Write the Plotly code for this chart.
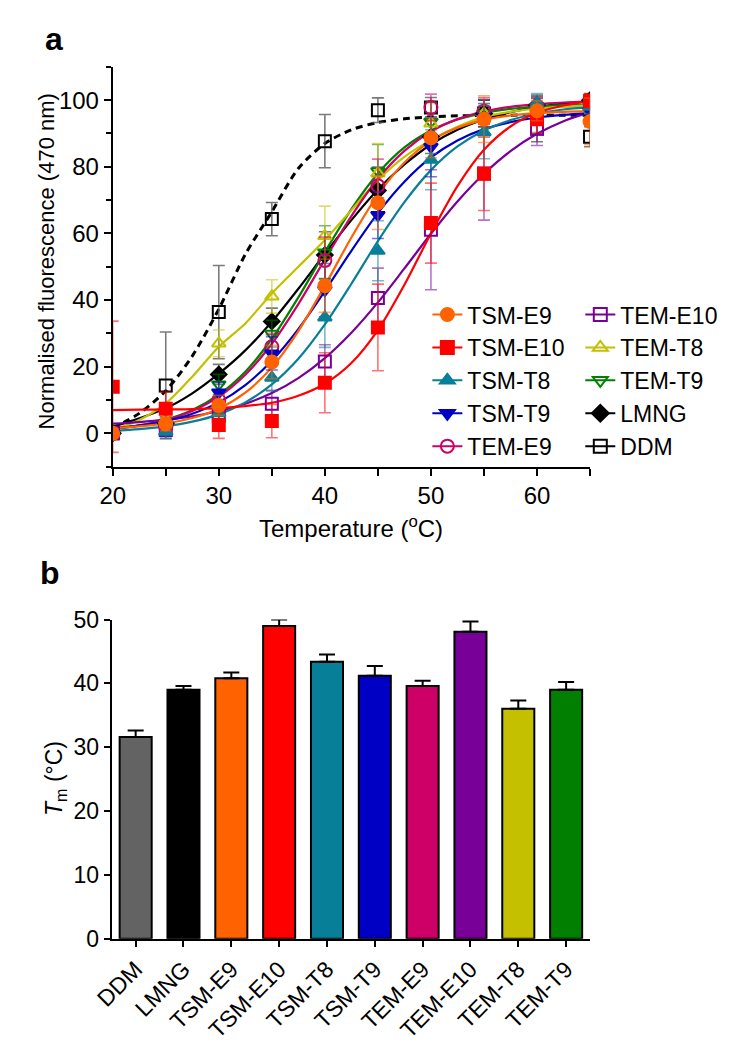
import plotly.graph_objects as go

W, H = 734, 1050

# ---------------- Panel a data ----------------
temps = [20, 25, 30, 35, 40, 45, 50, 55, 60, 65]
fit_temps = [20, 22.5, 25, 27.5, 30, 32.5, 35, 37.5, 40, 42.5, 45, 47.5, 50, 52.5, 55, 57.5, 60, 62.5, 65]

tsm_e9_pts = [0, 2.8, 8.4, 21.4, 44.3, 69.2, 88.7, 94.3, 96.8, 93.6]
tsm_e9_err = [1, 2, 3, 5, 8, 8, 6, 7, 3, 7]
tsm_e9_fit = [1.6, 2.1, 3.0, 4.6, 7.4, 12.2, 19.8, 30.7, 44.3, 58.8, 71.6, 81.3, 87.8, 91.7, 94.1, 95.4, 96.1, 96.5, 96.7]

tsm_e10_pts = [14, 7.4, 2.5, 3.7, 15.2, 31.8, 63.1, 77.9, 94.3, 99.8]
tsm_e10_err = [19.7, 5, 4, 5, 9, 13, 12, 11, 4, 2]
tsm_e10_fit = [7.0, 7.1, 7.2, 7.3, 7.6, 8.2, 9.2, 11.3, 14.9, 21.1, 31.0, 44.6, 60.0, 74.2, 85.1, 92.1, 96.2, 98.4, 99.7]

tsm_t8_pts = [0, 0.5, 6, 16.7, 34.8, 54.8, 82.1, 90.4, 99, 98]
tsm_t8_err = [1, 2, 3, 4, 9, 9, 9, 8, 3, 2]
tsm_t8_fit = [0.8, 1.3, 2.1, 3.5, 5.7, 9.3, 14.7, 22.4, 32.7, 44.9, 57.7, 69.4, 79.0, 86.1, 90.9, 94.0, 96.0, 97.2, 97.9]

tsm_t9_pts = [0, 1.5, 12.3, 24, 43, 65.5, 86, 95, 97.5, 96.8]
tsm_t9_err = [1, 2, 3, 5, 8, 7, 9, 5, 3, 2]
tsm_t9_fit = [1.4, 2.3, 3.7, 5.9, 9.3, 14.5, 21.8, 31.3, 42.7, 54.8, 66.1, 75.5, 82.8, 87.9, 91.3, 93.4, 94.8, 95.6, 96.2]

tem_e9_pts = [0, 2, 10, 26, 51.9, 74.3, 97.8, 96.7, 98, 99]
tem_e9_err = [1, 2, 3, 4, 7, 8, 4, 4, 3, 2]
tem_e9_fit = [1.4, 2.4, 4.0, 6.7, 11.0, 17.6, 26.9, 38.8, 52.2, 65.2, 76.4, 84.8, 90.6, 94.3, 96.6, 98.0, 98.8, 99.3, 99.6]

tem_e10_pts = [0, 1, 5.3, 8.9, 21.6, 40.6, 61.1, 78, 91.4, 99]
tem_e10_err = [1, 2, 3, 4, 5, 9, 18, 14, 5, 2]
tem_e10_fit = [2.9, 3.4, 4.1, 5.1, 6.7, 8.9, 12.1, 16.6, 22.6, 30.2, 39.3, 49.5, 59.9, 69.6, 77.9, 84.7, 89.9, 93.7, 96.4]

tem_t8_pts = [0, 4, 27, 41.1, 59.2, 78, 93, 96, 97.5, 98]
tem_t8_err = [1, 2, 4, 5, 9, 9, 6, 4, 3, 2]
tem_t8_fit = [1, 4, 9, 17, 26, 33, 42, 50, 58, 67, 76, 83, 88, 92, 95, 96.5, 97.5, 98, 98.5]

tem_t9_pts = [0, 2.5, 14.7, 29.9, 54.3, 78.7, 93.5, 96, 98, 98.5]
tem_t9_err = [1, 2, 3, 4, 8, 8, 6, 4, 3, 2]
tem_t9_fit = [1.4, 2.4, 4.1, 7.0, 11.6, 18.5, 28.4, 40.8, 54.4, 67.3, 78.0, 85.8, 90.9, 94.2, 96.2, 97.4, 98.1, 98.5, 98.7]

lmng_pts = [0, 3, 17.7, 33.6, 53.5, 72.9, 89, 96, 98.5, 100]
lmng_err = [1, 2, 3, 4, 7, 7, 5, 4, 3, 2]
lmng_fit = [2.0, 4.5, 7.5, 12.0, 17.9, 24.9, 33.5, 43.4, 53.9, 64.0, 73.2, 80.7, 86.7, 91.1, 94.2, 96.4, 98.0, 99.0, 99.6]

ddm_pts = [0, 14.4, 36.4, 64.3, 87.7, 97.0, 97.8, 96, 91.5, 89]
ddm_err = [0, 16, 14, 5, 8, 3.7, 3, 3, 4, 3]
ddm_fit = [1.5, 6.0, 12.8, 23.2, 37.3, 53.7, 66.5, 79.5, 87.0, 91.1, 93.3, 94.4, 95.0, 95.3, 95.4, 95.5, 95.5, 95.5, 95.5]

# ---------------- Panel b data ----------------
detergents = ["DDM", "LMNG", "TSM-E9", "TSM-E10", "TSM-T8", "TSM-T9", "TEM-E9", "TEM-E10", "TEM-T8", "TEM-T9"]
tm_values = [31.6, 39.0, 40.8, 49.0, 43.4, 41.2, 39.6, 48.1, 36.0, 39.0]
tm_errors = [1.0, 0.6, 0.9, 1.0, 1.1, 1.5, 0.8, 1.6, 1.3, 1.2]

colors = {
    "DDM": "#636363", "LMNG": "#000000", "TSM-E9": "#FF6200", "TSM-E10": "#FF0000",
    "TSM-T8": "#077F98", "TSM-T9": "#0000C4", "TEM-E9": "#CC0066", "TEM-E10": "#780099",
    "TEM-T8": "#C4C000", "TEM-T9": "#007F00",
}
line_colors = dict(colors)
line_colors["DDM"] = "#000000"

def rgba(hexc, a):
    h = hexc.lstrip("#")
    r, g, b = int(h[0:2], 16), int(h[2:4], 16), int(h[4:6], 16)
    return f"rgba({r},{g},{b},{a})"

series = [
    # name, pts, err, fit, symbol, dash
    ("DDM", ddm_pts, ddm_err, ddm_fit, "square-open", "dash"),
    ("LMNG", lmng_pts, lmng_err, lmng_fit, "diamond", "solid"),
    ("TEM-T9", tem_t9_pts, tem_t9_err, tem_t9_fit, "triangle-down-open", "solid"),
    ("TEM-T8", tem_t8_pts, tem_t8_err, tem_t8_fit, "triangle-up-open", "solid"),
    ("TEM-E10", tem_e10_pts, tem_e10_err, tem_e10_fit, "square-open", "solid"),
    ("TEM-E9", tem_e9_pts, tem_e9_err, tem_e9_fit, "circle-open", "solid"),
    ("TSM-T9", tsm_t9_pts, tsm_t9_err, tsm_t9_fit, "triangle-down", "solid"),
    ("TSM-T8", tsm_t8_pts, tsm_t8_err, tsm_t8_fit, "triangle-up", "solid"),
    ("TSM-E10", tsm_e10_pts, tsm_e10_err, tsm_e10_fit, "square", "solid"),
    ("TSM-E9", tsm_e9_pts, tsm_e9_err, tsm_e9_fit, "circle", "solid"),
]

fig = go.Figure()

# fit curves
for name, pts, err, fit, sym, dash in series:
    fig.add_trace(go.Scatter(
        x=fit_temps, y=fit, mode="lines",
        line=dict(color=line_colors[name], width=2.2 if dash == "solid" else 3,
                  dash="7px,5px" if dash == "dash" else "solid", shape="spline", smoothing=0.8),
        showlegend=False, hoverinfo="skip", xaxis="x", yaxis="y"))

# data points with error bars
for name, pts, err, fit, sym, dash in series:
    ecol = "rgba(90,90,90,0.8)" if name in ("DDM", "LMNG") else rgba(colors[name], 0.55)
    fig.add_trace(go.Scatter(
        x=temps, y=pts, mode="markers",
        marker=dict(symbol=sym, size=13 if "circle" in sym else 12, color=line_colors[name],
                    line=dict(color=line_colors[name], width=2)),
        error_y=dict(type="data", array=err, color=ecol, thickness=1.6, width=6),
        showlegend=False, xaxis="x", yaxis="y"))

legend_col1 = ["TSM-E9", "TSM-E10", "TSM-T8", "TSM-T9", "TEM-E9"]
legend_col2 = ["TEM-E10", "TEM-T8", "TEM-T9", "LMNG", "DDM"]
sym_by_name = {s[0]: s[4] for s in series}
for grp, names in (("legend", legend_col1), ("legend2", legend_col2)):
    for name in names:
        fig.add_trace(go.Scatter(
            x=[None], y=[None], mode="lines+markers", name=name,
            line=dict(color=line_colors[name], width=2),
            marker=dict(symbol=sym_by_name[name], size=13, color=line_colors[name],
                        line=dict(color=line_colors[name], width=2)),
            legend=grp, xaxis="x", yaxis="y"))

# bar chart
fig.add_trace(go.Bar(
    x=detergents, y=tm_values,
    marker=dict(color=[colors[d] for d in detergents], line=dict(color="black", width=2)),
    error_y=dict(type="data", array=tm_errors, arrayminus=[0] * len(tm_errors), symmetric=False,
                 color="black", thickness=2, width=8),
    showlegend=False, xaxis="x2", yaxis="y2"))

def fx(p):
    return p / W

def fy(p):
    return 1 - p / H

FONT = "Liberation Sans, Arial, sans-serif"
axis_common = dict(showline=True, linecolor="black", linewidth=2, ticks="outside", tickcolor="black",
                   tickwidth=2, showgrid=False, zeroline=False, mirror=False)

fig.update_layout(
    width=W, height=H, margin=dict(l=0, r=0, t=0, b=0),
    paper_bgcolor="white", plot_bgcolor="white",
    font=dict(family=FONT, size=23, color="black"),
    xaxis=dict(domain=[fx(88), fx(578)], range=[20, 65], tick0=20, dtick=10, ticklen=7,
               tickfont=dict(size=24), anchor="y",
               minor=dict(dtick=5, ticklen=7, tickcolor="black", tickwidth=2, ticks="outside"),
               **axis_common),
    yaxis=dict(domain=[fy(457), fy(47)], range=[-10, 110], tick0=0, dtick=20, ticklen=7,
               tickfont=dict(size=24), anchor="x",
               minor=dict(dtick=10, tick0=0, ticklen=5, tickcolor="black", tickwidth=2, ticks="outside"),
               **axis_common),
    xaxis2=dict(domain=[fx(87), fx(578)], range=[-0.5, 9.5], tickangle=-45, ticklen=6,
                tickfont=dict(size=23), anchor="y2", **axis_common),
    yaxis2=dict(domain=[fy(941), fy(613.7)], range=[0, 50], dtick=10, ticklen=6,
                tickfont=dict(size=23), anchor="x2", **axis_common),
    bargap=0.33,
    legend=dict(x=fx(411), y=fy(279), xanchor="left", yanchor="top", bgcolor="rgba(0,0,0,0)",
                font=dict(size=23), itemwidth=30, tracegroupgap=0),
    legend2=dict(x=fx(568), y=fy(279), xanchor="left", yanchor="top", bgcolor="rgba(0,0,0,0)",
                 font=dict(size=23), itemwidth=30, tracegroupgap=0),
)

annotations = [
    dict(text="<b>a</b>", x=fx(28), y=fy(18), xref="paper", yref="paper", showarrow=False,
         font=dict(size=32), xanchor="center", yanchor="middle"),
    dict(text="<b>b</b>", x=fx(24), y=fy(566), xref="paper", yref="paper", showarrow=False,
         font=dict(size=32), xanchor="center", yanchor="middle"),
    dict(text="Normalised fluorescence (470 nm)", x=fx(20), y=fy(246), xref="paper", yref="paper",
         showarrow=False, textangle=-90, font=dict(size=22), xanchor="center", yanchor="middle"),
    dict(text="Temperature (<sup>o</sup>C)", x=fx(333), y=fy(519), xref="paper", yref="paper",
         showarrow=False, font=dict(size=24), xanchor="center", yanchor="middle"),
    dict(text="<i>T</i><sub>m</sub> (°C)", x=fx(30), y=fy(777), xref="paper", yref="paper",
         showarrow=False, textangle=-90, font=dict(size=23), xanchor="center", yanchor="middle"),
]
fig.update_layout(annotations=annotations)

fig.write_html("out.html")
